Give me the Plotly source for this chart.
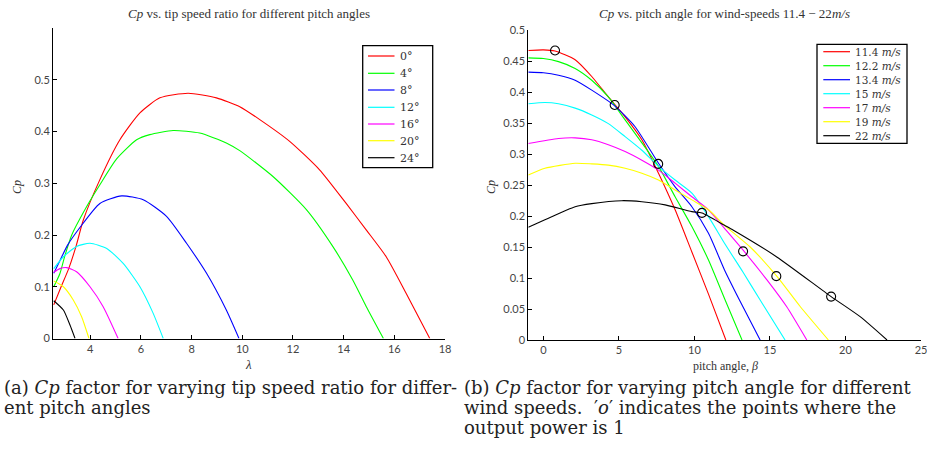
import plotly.graph_objects as go

# ---------------- data ----------------
pitch_labels = ["0°", "4°", "8°", "12°", "16°", "20°", "24°"]
pitch_colors = ["#ff0000", "#00ff00", "#0000ff", "#00ffff", "#ff00ff", "#ffff00", "#000000"]

lam_p0 = [2.56, 2.85, 3.15, 3.45, 3.72, 4.38, 5.17, 5.96, 6.75, 7.86, 8.98, 9.9, 10.69, 11.87, 13.05, 14.10, 14.89, 15.68, 16.47, 17.4]
cp_p0 = [0.065, 0.10, 0.135, 0.18, 0.228, 0.307, 0.384, 0.436, 0.465, 0.474, 0.465, 0.448, 0.423, 0.381, 0.326, 0.261, 0.210, 0.158, 0.087, 0.0]

lam_p4 = [2.56, 2.8, 3.0, 3.27, 3.86, 4.38, 5.04, 5.83, 6.35, 7.27, 8.32, 9.37, 9.9, 11.21, 12.53, 13.57, 14.36, 14.89, 15.57]
cp_p4 = [0.10, 0.125, 0.16, 0.20, 0.255, 0.297, 0.347, 0.384, 0.394, 0.402, 0.397, 0.378, 0.363, 0.313, 0.249, 0.178, 0.113, 0.062, 0.0]

lam_p8 = [2.56, 2.8, 3.1, 3.6, 4.38, 5.24, 6.09, 7.01, 7.80, 8.59, 9.37, 9.87]
cp_p8 = [0.126, 0.15, 0.18, 0.215, 0.261, 0.2756, 0.268, 0.236, 0.184, 0.126, 0.055, 0.0]

lam_p12 = [2.56, 2.94, 3.46, 3.99, 4.65, 5.30, 5.96, 6.48, 6.88]
cp_p12 = [0.135, 0.158, 0.178, 0.184, 0.174, 0.145, 0.10, 0.049, 0.0]

lam_p16 = [2.56, 2.8, 3.07, 3.46, 3.99, 4.51, 5.10]
cp_p16 = [0.128, 0.135, 0.137, 0.129, 0.10, 0.0615, 0.0]

lam_p20 = [2.56, 2.94, 3.33, 3.66, 3.95]
cp_p20 = [0.111, 0.10, 0.0745, 0.042, 0.0]

lam_p24 = [2.56, 2.94, 3.2, 3.40]
cp_p24 = [0.073, 0.055, 0.026, 0.0]

wind_labels = ["11.4 <i>m/s</i>", "12.2 <i>m/s</i>", "13.4 <i>m/s</i>", "15 <i>m/s</i>",
               "17 <i>m/s</i>", "19 <i>m/s</i>", "22 <i>m/s</i>"]
wind_colors = pitch_colors

beta_w114 = [-1, 0, 0.77, 2.1, 3.2, 4.3, 5.41, 6.52, 7.62, 8.72, 9.83, 10.93, 12.08]
cp_w114 = [0.467, 0.468, 0.466, 0.452, 0.425, 0.392, 0.360, 0.323, 0.269, 0.21, 0.142, 0.074, 0.0]

beta_w122 = [-1, 0, 1.0, 2.1, 3.2, 4.3, 5.41, 6.52, 7.62, 8.72, 9.83, 10.93, 11.99, 13.15]
cp_w122 = [0.455, 0.454, 0.449, 0.438, 0.419, 0.392, 0.355, 0.318, 0.280, 0.231, 0.183, 0.129, 0.067, 0.0]

beta_w134 = [-1, 0, 1.0, 2.1, 3.2, 4.7, 6.07, 7.62, 8.72, 9.83, 10.93, 11.99, 12.98, 14.35]
cp_w134 = [0.432, 0.431, 0.427, 0.419, 0.403, 0.378, 0.344, 0.285, 0.247, 0.215, 0.172, 0.113, 0.0645, 0.0]

beta_w15 = [-1, 0.1, 1.0, 2.1, 3.2, 4.3, 5.41, 6.52, 7.62, 8.72, 9.83, 10.93, 11.99, 13.2, 14.35, 16.0]
cp_w15 = [0.381, 0.383, 0.381, 0.374, 0.363, 0.349, 0.328, 0.306, 0.280, 0.258, 0.237, 0.199, 0.156, 0.11, 0.0645, 0.0]

beta_w17 = [-1, 1.0, 2.1, 3.2, 4.3, 5.41, 6.52, 7.62, 8.72, 9.83, 10.93, 11.99, 13.25, 14.8, 16.1, 17.44]
cp_w17 = [0.317, 0.325, 0.326, 0.323, 0.315, 0.304, 0.290, 0.274, 0.253, 0.231, 0.210, 0.180, 0.144, 0.097, 0.054, 0.0]

beta_w19 = [-1, 0.1, 2.1, 3.2, 4.3, 5.41, 6.52, 7.62, 8.72, 9.83, 10.93, 11.99, 13.69, 15.45, 17.0, 18.87]
cp_w19 = [0.266, 0.277, 0.285, 0.284, 0.282, 0.277, 0.269, 0.258, 0.242, 0.226, 0.210, 0.185, 0.150, 0.103, 0.054, 0.0]

beta_w22 = [-1, 0.1, 2.1, 3.2, 5.19, 6.52, 8.06, 9.83, 10.5, 11.99, 12.58, 15.45, 19.05, 20.97, 22.75]
cp_w22 = [0.182, 0.194, 0.215, 0.220, 0.2247, 0.223, 0.218, 0.207, 0.205, 0.185, 0.177, 0.134, 0.070, 0.0376, 0.0]

beta_unit = [0.77, 4.72, 7.6, 10.5, 13.22, 15.42, 19.05]
cp_unit = [0.467, 0.379, 0.284, 0.205, 0.143, 0.103, 0.070]

lam_series = [(lam_p0, cp_p0), (lam_p4, cp_p4), (lam_p8, cp_p8), (lam_p12, cp_p12),
              (lam_p16, cp_p16), (lam_p20, cp_p20), (lam_p24, cp_p24)]
beta_series = [(beta_w114, cp_w114), (beta_w122, cp_w122), (beta_w134, cp_w134), (beta_w15, cp_w15),
               (beta_w17, cp_w17), (beta_w19, cp_w19), (beta_w22, cp_w22)]

# ---------------- layout helpers ----------------
W, H = 927, 464
def fx(x):
    return x / W
def fy(y):
    return 1 - y / H

SERIF = "Liberation Serif"
MATHSERIF = "DejaVu Serif"
TICKFONT = dict(family="Lato", size=11, color="#444444")

fig = go.Figure()

for (x, y), c, n in zip(lam_series, pitch_colors, pitch_labels):
    fig.add_trace(go.Scatter(x=x, y=y, mode="lines", name=n, xaxis="x", yaxis="y",
                             line=dict(color=c, width=1.1, shape="spline", smoothing=0.6),
                             showlegend=False, hoverinfo="skip"))

for (x, y), c, n in zip(beta_series, wind_colors, wind_labels):
    fig.add_trace(go.Scatter(x=x, y=y, mode="lines", name=n, xaxis="x2", yaxis="y2",
                             line=dict(color=c, width=1.1, shape="spline", smoothing=0.6),
                             showlegend=False, hoverinfo="skip"))

fig.add_trace(go.Scatter(x=beta_unit, y=cp_unit, mode="markers", xaxis="x2", yaxis="y2",
                         marker=dict(symbol="circle-open", size=9, color="black", line=dict(width=1.1)),
                         showlegend=False, hoverinfo="skip"))

axis_common = dict(showline=True, linecolor="black", linewidth=1, mirror=False, showgrid=False,
                   zeroline=False, ticks="inside", ticklen=4, tickcolor="black", tickfont=TICKFONT,
                   automargin=False, ticklabeloverflow="allow")

fig.update_layout(
    width=W, height=H, margin=dict(l=0, r=0, t=0, b=0),
    paper_bgcolor="white", plot_bgcolor="white",
    xaxis=dict(domain=[fx(53), fx(445)], range=[2.53, 18], tickvals=[4, 6, 8, 10, 12, 14, 16, 18],
               anchor="y", **axis_common),
    yaxis=dict(domain=[fy(338.5), fy(28)], range=[0, 0.6], tickvals=[0, 0.1, 0.2, 0.3, 0.4, 0.5],
               ticktext=["0", "0.1", "0.2", "0.3", "0.4", "0.5"], anchor="x", **axis_common),
    xaxis2=dict(domain=[fx(528.3), fx(921)], range=[-1, 25], tickvals=[0, 5, 10, 15, 20, 25],
                anchor="y2", **axis_common),
    yaxis2=dict(domain=[fy(340), fy(30)], range=[0, 0.5],
                tickvals=[0, 0.05, 0.1, 0.15, 0.2, 0.25, 0.3, 0.35, 0.4, 0.45, 0.5],
                ticktext=["0", "0.05", "0.1", "0.15", "0.2", "0.25", "0.3", "0.35", "0.4", "0.45", "0.5"],
                anchor="x2", **axis_common),
)

ann = []
def text(x, y, s, size=11, xanchor="center", color="#333333", family=SERIF, angle=0):
    ann.append(dict(x=fx(x), y=fy(y), xref="paper", yref="paper", text=s, showarrow=False,
                    xanchor=xanchor, yanchor="middle", textangle=angle,
                    font=dict(family=family, size=size, color=color)))

# titles
text(248.5, 13, "<i>Cp</i> vs. tip speed ratio for different pitch angles", size=13)
text(724, 13, "<i>Cp</i> vs. pitch angle for wind-speeds 11.4 − 22<i>m/s</i>", size=13)
# axis titles
text(17, 187, "<i>Cp</i>", size=12, angle=-90)
text(248, 364, "<i>λ</i>", size=13)
text(491, 187, "<i>Cp</i>", size=12, angle=-90)
text(725, 366, "pitch angle, <i>β</i>", size=12)

# captions
CAP = 18
text(2, 387, "(a) <i>Cp</i> factor for varying tip speed ratio for differ-", size=CAP, xanchor="left",
     color="#222222", family=MATHSERIF)
text(2, 407, "ent pitch angles", size=CAP, xanchor="left", color="#222222", family=MATHSERIF)
text(462, 387, "(b) <i>Cp</i> factor for varying pitch angle for different", size=CAP, xanchor="left",
     color="#222222", family=MATHSERIF)
text(462, 407, "wind speeds.  ′<i>o</i>′ indicates the points where the", size=CAP, xanchor="left",
     color="#222222", family=MATHSERIF)
text(462, 427, "output power is 1", size=CAP, xanchor="left", color="#222222", family=MATHSERIF)

shapes = []
# left legend box
shapes.append(dict(type="rect", xref="paper", yref="paper", x0=fx(362.7), x1=fx(432.7), y0=fy(167.7), y1=fy(45.7),
                   line=dict(color="black", width=1.3), fillcolor="white", layer="above"))
left_rows = [56, 73.3, 90, 107.3, 124, 140.7, 157.7]
for yy, c, n in zip(left_rows, pitch_colors, pitch_labels):
    shapes.append(dict(type="line", xref="paper", yref="paper", x0=fx(368), x1=fx(394.5), y0=fy(yy), y1=fy(yy),
                       line=dict(color=c, width=1.2), layer="above"))
    text(397.5, yy + 0.5, n, size=11, xanchor="left", color="#333333", family=MATHSERIF)

# right legend box
shapes.append(dict(type="rect", xref="paper", yref="paper", x0=fx(817), x1=fx(907), y0=fy(143.3), y1=fy(44.3),
                   line=dict(color="black", width=1.3), fillcolor="white", layer="above"))
right_rows = [51.7, 65.7, 79.7, 93.7, 107.7, 121.7, 135.7]
for yy, c, n in zip(right_rows, wind_colors, wind_labels):
    shapes.append(dict(type="line", xref="paper", yref="paper", x0=fx(823.3), x1=fx(850), y0=fy(yy), y1=fy(yy),
                       line=dict(color=c, width=1.2), layer="above"))
    text(853, yy + 0.5, n, size=10.5, xanchor="left", color="#333333", family=MATHSERIF)

fig.update_layout(annotations=ann, shapes=shapes)
fig.write_html("out.html")
